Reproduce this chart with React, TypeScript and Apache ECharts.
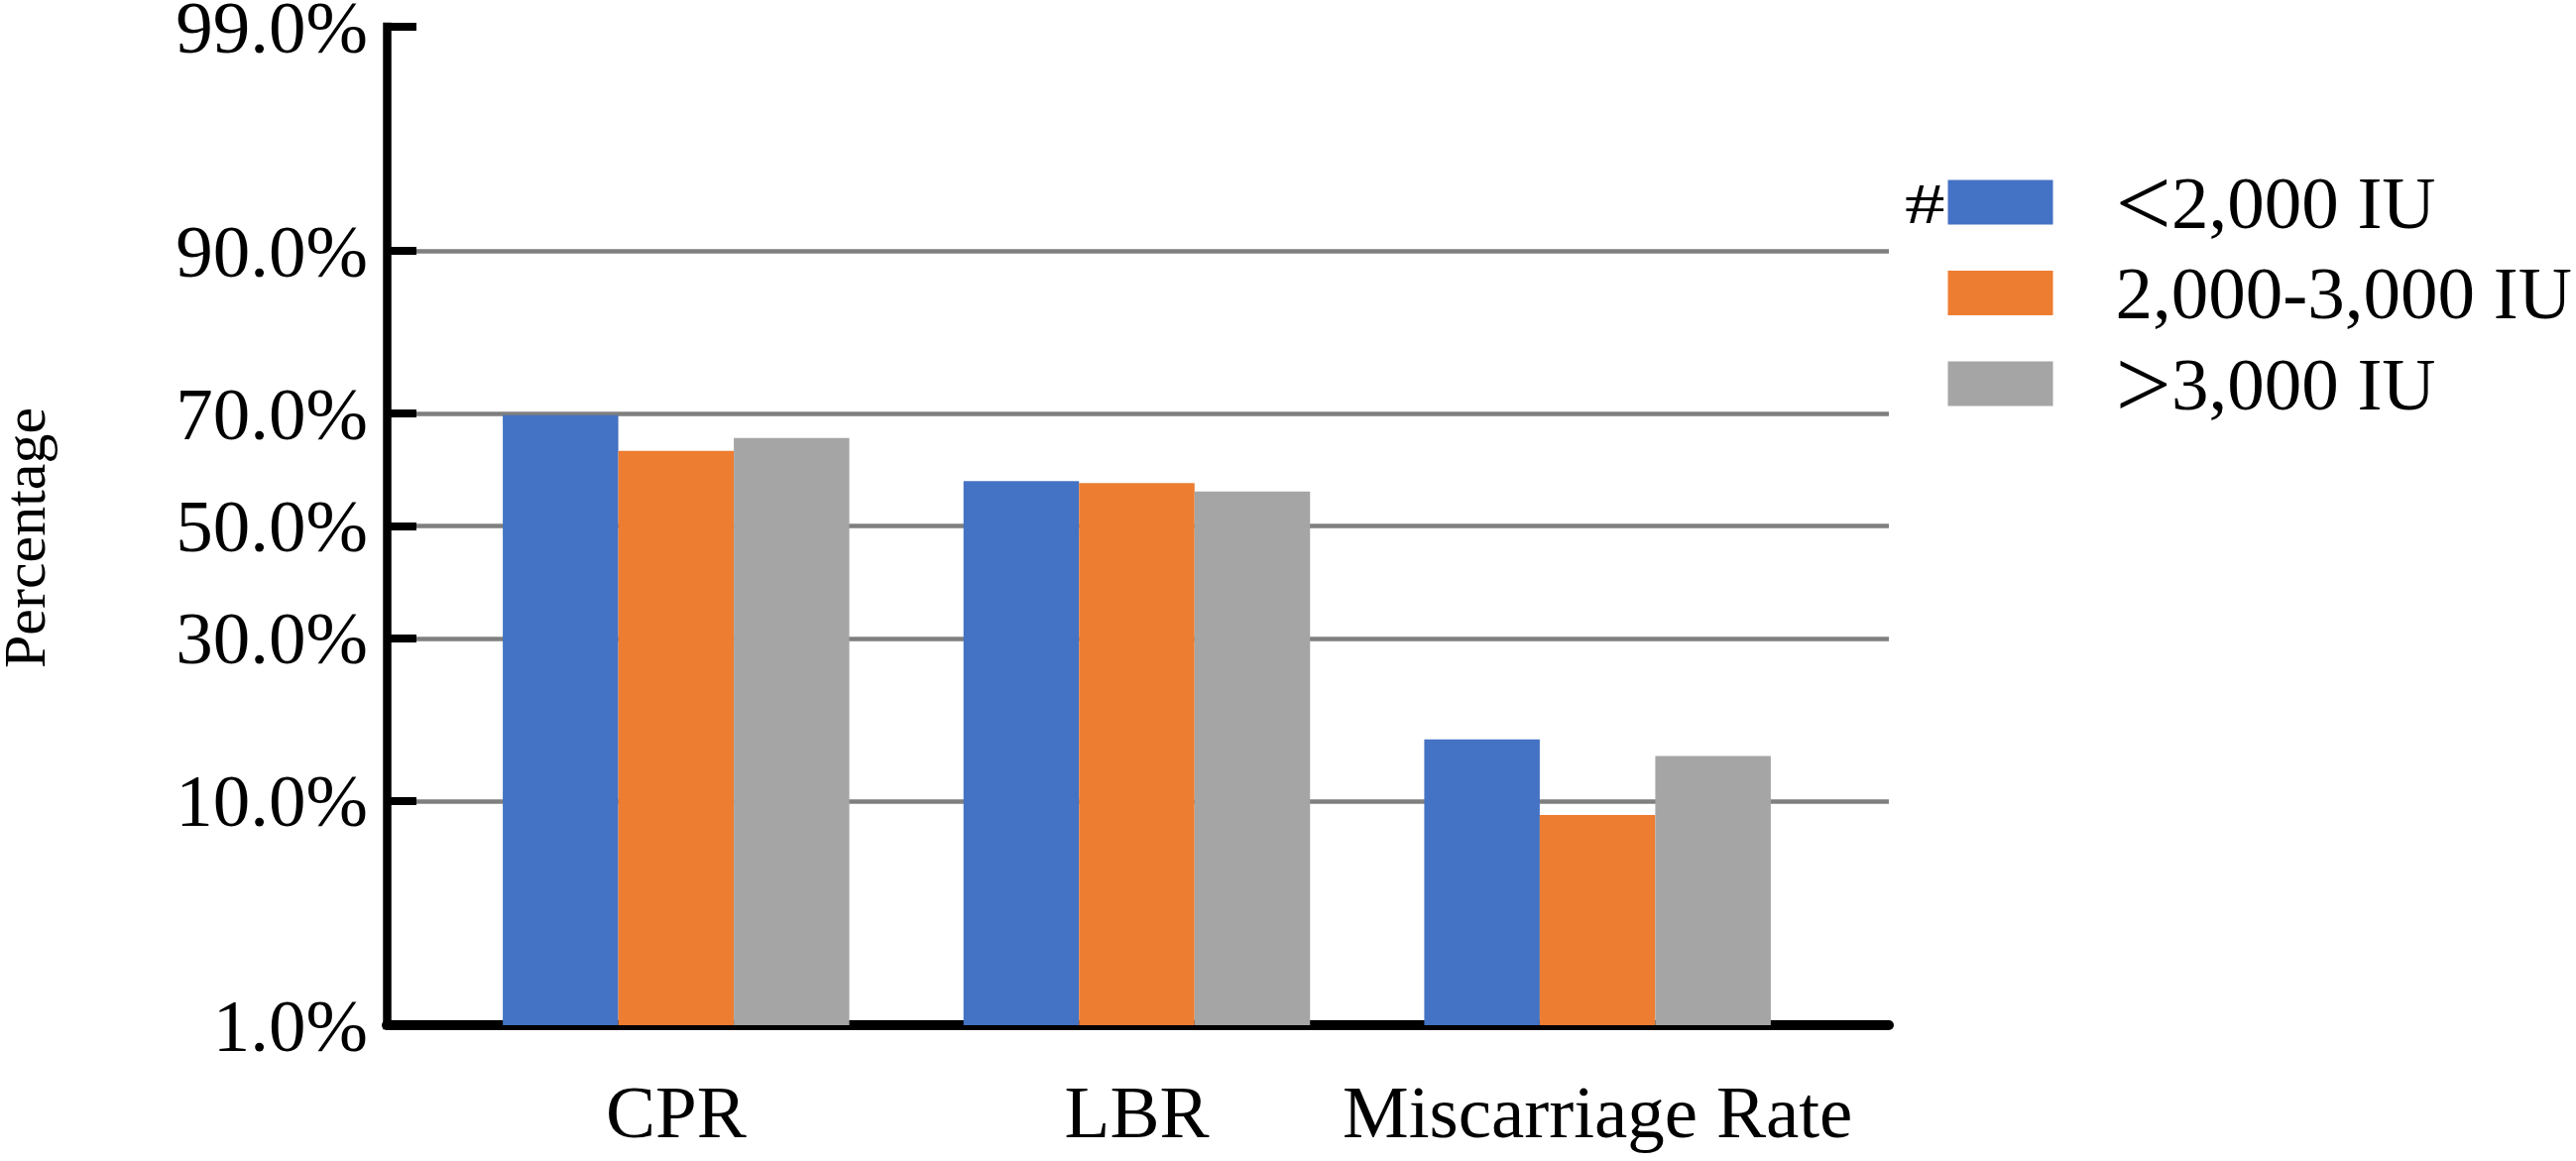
import React, { useEffect, useRef } from "react";
import * as echarts from "echarts";

const categories = ["CPR", "LBR", "Miscarriage Rate"];
const seriesNames = ["<2,000 IU", "2,000-3,000 IU", ">3,000 IU"];
const lowDose = [69.7, 58.3, 16.0];
const midDose = [63.7, 57.9, 8.9];
const highDose = [65.9, 56.4, 14.2];
const tickPercents = [1, 10, 30, 50, 70, 90, 99];
const colors = ["#4472C4", "#ED7D31", "#A5A5A5"];

// inverse standard normal CDF (probability scale)
function probit(p: number): number {
  const a = [-3.969683028665376e1, 2.209460984245205e2, -2.759285104469687e2, 1.38357751867269e2, -3.066479806614716e1, 2.506628277459239];
  const b = [-5.447609879822406e1, 1.615858368580409e2, -1.556989798598866e2, 6.680131188771972e1, -1.328068155288572e1];
  const c = [-7.784894002430293e-3, -3.223964580411365e-1, -2.400758277161838, -2.549732539343734, 4.374664141464968, 2.938163982698783];
  const d = [7.784695709041462e-3, 3.224671290700398e-1, 2.445134137142996, 3.754408661907416];
  const plow = 0.02425;
  const phigh = 1 - plow;
  if (p < plow) {
    const q = Math.sqrt(-2 * Math.log(p));
    return (((((c[0] * q + c[1]) * q + c[2]) * q + c[3]) * q + c[4]) * q + c[5]) / ((((d[0] * q + d[1]) * q + d[2]) * q + d[3]) * q + 1);
  }
  if (p <= phigh) {
    const q = p - 0.5;
    const r = q * q;
    return ((((((a[0] * r + a[1]) * r + a[2]) * r + a[3]) * r + a[4]) * r + a[5]) * q) / (((((b[0] * r + b[1]) * r + b[2]) * r + b[3]) * r + b[4]) * r + 1);
  }
  const q = Math.sqrt(-2 * Math.log(1 - p));
  return -(((((c[0] * q + c[1]) * q + c[2]) * q + c[3]) * q + c[4]) * q + c[5]) / ((((d[0] * q + d[1]) * q + d[2]) * q + d[3]) * q + 1);
}

const BASE = probit(tickPercents[0] / 100);
const toAxis = (pct: number) => probit(pct / 100) - BASE;
const YMAX = toAxis(tickPercents[tickPercents.length - 1]);
const tickValues = tickPercents.map(toAxis);

const FONT = '"Liberation Serif", "Times New Roman", serif';

function labelFor(v: number): string {
  let best = 0;
  let bestD = Infinity;
  tickValues.forEach((t, i) => {
    const dd = Math.abs(t - v);
    if (dd < bestD) {
      bestD = dd;
      best = i;
    }
  });
  return tickPercents[best].toFixed(1) + "%";
}

function legendLabel(name: string): string {
  const first = name.charAt(0);
  if (first === "<" || first === ">") {
    return "{sym|" + first + "}{txt|" + name.slice(1) + "}";
  }
  return "{txt|" + name + "}";
}

export default function App() {
  const ref = useRef<HTMLDivElement>(null);
  useEffect(() => {
    if (!ref.current) return;
    const chart = echarts.init(ref.current, undefined, { renderer: "svg" });
    const dataSets = [lowDose, midDose, highDose];
    chart.setOption({
      animation: false,
      backgroundColor: "#fff",
      grid: [
        { left: 390, right: 693, top: 27, bottom: 137, outerBoundsMode: "none", containLabel: false },
        { left: 449.5, right: 754.5, top: 27, bottom: 137, outerBoundsMode: "none", containLabel: false },
      ],
      xAxis: [
        {
          type: "value",
          gridIndex: 0,
          min: 0,
          max: 1,
          axisLine: { show: true, onZero: false, lineStyle: { color: "#000", width: 10 } },
          axisTick: { show: false },
          axisLabel: { show: false },
          splitLine: { show: false },
        },
        {
          type: "category",
          gridIndex: 1,
          data: categories,
          axisLine: { show: false },
          axisTick: { show: false },
          axisLabel: { interval: 0, fontSize: 75, fontFamily: FONT, color: "#000", margin: 50, hideOverlap: false },
          splitLine: { show: false },
        },
      ],
      yAxis: [
        {
          type: "value",
          gridIndex: 0,
          min: 0,
          max: YMAX,
          axisLine: { show: true, onZero: false, lineStyle: { color: "#000", width: 8.5, cap: "square" } },
          axisTick: { show: true, inside: true, length: 30, customValues: tickValues, lineStyle: { color: "#000", width: 8 } },
          axisLabel: {
            customValues: tickValues,
            formatter: (v: number) => labelFor(v),
            fontSize: 75,
            fontFamily: FONT,
            color: "#000",
            margin: 19,
          },
          splitLine: { show: true, showMinLine: false, showMaxLine: false, lineStyle: { color: "#7F7F7F", width: 4.5 } },
          name: "Percentage",
          nameLocation: "middle",
          nameRotate: 90,
          nameGap: 335,
          nameTextStyle: { fontSize: 60, fontFamily: FONT, color: "#000", padding: [0, 24, 0, 0] },
        },
        {
          type: "value",
          gridIndex: 1,
          min: 0,
          max: YMAX,
          show: false,
          splitLine: { show: false },
        },
      ],
      legend: {
        orient: "vertical",
        left: 1964.5,
        top: 154,
        padding: 0,
        itemWidth: 106,
        itemHeight: 45,
        itemGap: 4,
        icon: "rect",
        data: seriesNames,
        formatter: legendLabel,
        textStyle: {
          fontSize: 75,
          lineHeight: 75,
          fontFamily: FONT,
          color: "#000",
          padding: [0, 0, 0, 58],
          rich: {
            sym: { fontSize: 100, lineHeight: 75, fontFamily: FONT, color: "#000", verticalAlign: "middle" },
            txt: { fontSize: 75, lineHeight: 75, fontFamily: FONT, color: "#000", verticalAlign: "middle" },
          },
        },
      },
      graphic: [
        {
          type: "text",
          x: 1921,
          y: 205,
          scaleX: 1.4,
          style: { text: "#", fontSize: 58, fontFamily: FONT, fill: "#000", align: "left", verticalAlign: "middle" },
        },
      ],
      series: seriesNames.map((name, i) => ({
        name,
        type: "bar",
        xAxisIndex: 1,
        yAxisIndex: 1,
        barWidth: 116.5,
        barGap: "0%",
        itemStyle: { color: colors[i] },
        data: dataSets[i].map(toAxis),
      })),
    });
    return () => chart.dispose();
  }, []);
  return <div ref={ref} style={{ position: "absolute", left: 0, top: 0, width: 2598, height: 1171 }} />;
}
